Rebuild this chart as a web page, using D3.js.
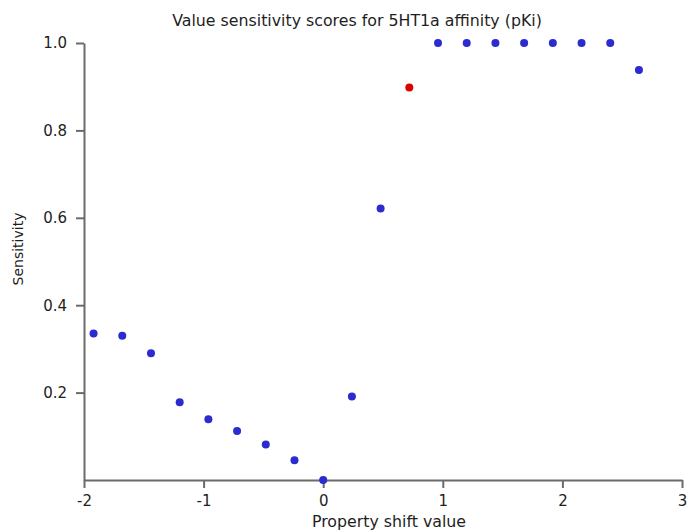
<!DOCTYPE html>
<html>
<head>
<meta charset="utf-8">
<script src="https://cdn.jsdelivr.net/npm/d3@7/dist/d3.min.js"></script>
<style>
  html, body { margin: 0; padding: 0; background: #fff; }
  svg { display: block; }
  text { font-family: "DejaVu Sans", Verdana, sans-serif; }
</style>
</head>
<body>
<svg id="chart" width="688" height="531"></svg>
<script>
// Property shift values (x) and sensitivity scores (y)
const shiftValues = [-1.92, -1.68, -1.44, -1.2, -0.96, -0.72, -0.48, -0.24, 0, 0.24,
                     0.48, 0.72, 0.96, 1.2, 1.44, 1.68, 1.92, 2.16, 2.4, 2.64];
const sensitivity = [0.335, 0.330, 0.290, 0.178, 0.139, 0.112, 0.081, 0.045, 0, 0.191,
                     0.621, 0.898, 1.0, 1.0, 1.0, 1.0, 1.0, 1.0, 1.0, 0.938];
// index of the highlighted point
const highlighted = [11];
const xTicks = [-2, -1, 0, 1, 2, 3];
const yTicks = [0.2, 0.4, 0.6, 0.8, 1.0];

const titleText = "Value sensitivity scores for 5HT1a affinity (pKi)";
const xLabel = "Property shift value";
const yLabel = "Sensitivity";

const svg = d3.select("#chart");
const margin = { left: 84, right: 6, top: 43, bottom: 51 };
const W = 688, H = 531;

const x = d3.scaleLinear().domain([-2, 3]).range([margin.left, W - margin.right]);
const y = d3.scaleLinear().domain([0, 1]).range([H - margin.bottom, margin.top]);

const axisColor = "#6b6b6b";
const textColor = "#1e1e1e";

// Title
svg.append("text")
  .attr("x", 357).attr("y", 26)
  .attr("text-anchor", "middle")
  .attr("font-size", 15.8)
  .attr("fill", textColor)
  .text(titleText);

// X axis (plain hyphen for negative numbers)
const gx = svg.append("g")
  .attr("transform", `translate(0,${y(0)})`)
  .call(d3.axisBottom(x).tickValues(xTicks).tickFormat(d => String(d))
    .tickSize(8).tickPadding(7).tickSizeOuter(0));

// Y axis
const gy = svg.append("g")
  .attr("transform", `translate(${x(-2)},0)`)
  .call(d3.axisLeft(y).tickValues(yTicks).tickFormat(d => d.toFixed(1))
    .tickSize(8).tickPadding(9).tickSizeOuter(0));

[gx, gy].forEach(g => {
  g.select(".domain").attr("stroke", axisColor).attr("stroke-width", 2);
  g.selectAll(".tick line").attr("stroke", axisColor).attr("stroke-width", 2);
  g.selectAll(".tick text")
    .attr("fill", textColor)
    .attr("font-size", 15)
    .attr("font-family", "\"DejaVu Sans\", Verdana, sans-serif");
});

// Axis titles
svg.append("text")
  .attr("x", 389).attr("y", 527)
  .attr("text-anchor", "middle")
  .attr("font-size", 15.8)
  .attr("fill", textColor)
  .text(xLabel);

svg.append("text")
  .attr("transform", "translate(23,249) rotate(-90)")
  .attr("text-anchor", "middle")
  .attr("font-size", 14)
  .attr("fill", textColor)
  .text(yLabel);

// Points
const pts = shiftValues.map((v, i) => ({ x: v, y: sensitivity[i], hi: highlighted.includes(i) }));
svg.append("g")
  .selectAll("circle")
  .data(pts)
  .join("circle")
  .attr("cx", d => x(d.x))
  .attr("cy", d => y(d.y))
  .attr("r", 4)
  .attr("fill", d => d.hi ? "#dd0000" : "#2b2bd0");
</script>
</body>
</html>
